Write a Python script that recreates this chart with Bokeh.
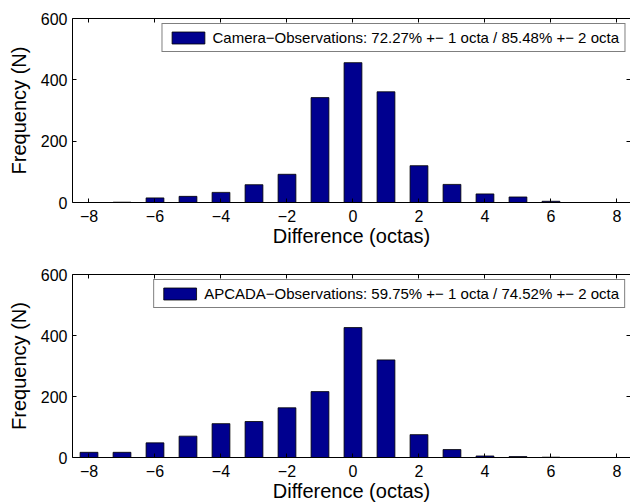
from bokeh.plotting import figure
from bokeh.layouts import column
from bokeh.models import (LinearAxis, Range1d, FixedTicker, Legend, LegendItem,
                          ColumnDataSource)
from bokeh.embed import file_html
from bokeh.resources import INLINE

# ---- data ----
differences = list(range(-8, 9))
camera_counts = [0, 1, 15, 20, 33, 58, 92, 342, 456, 361, 120, 59, 28, 18, 4, 0, 0]
apcada_counts = [17, 17, 48, 70, 111, 118, 163, 216, 426, 320, 75, 26, 5, 3, 1, 0, 0]
camera_label = "Camera\u2212Observations: 72.27% +\u2212 1 octa / 85.48% +\u2212 2 octa"
apcada_label = "APCADA\u2212Observations: 59.75% +\u2212 1 octa / 74.52% +\u2212 2 octa"
x_ticks = [-8, -6, -4, -2, 0, 2, 4, 6, 8]
y_ticks = [0, 200, 400, 600]
x_label = "Difference (octas)"
y_label = "Frequency (N)"

FONT = "Liberation Sans"
BAR = "#00008F"


def style_axis(ax, ticks, show_labels=True, show_line=True):
    ax.ticker = FixedTicker(ticks=ticks)
    ax.major_tick_in = 4
    ax.major_tick_out = 0
    ax.minor_tick_in = 0
    ax.minor_tick_out = 0
    ax.major_tick_line_color = "black"
    ax.axis_line_color = "black" if show_line else None
    ax.major_label_text_font = FONT
    ax.major_label_text_color = "black"
    ax.axis_label_text_color = "black"
    if not show_labels:
        ax.major_label_overrides = {t: "" for t in ticks}
        ax.major_label_text_font_size = "1px"
        ax.major_label_standoff = 0
        ax.major_label_text_alpha = 0


def make(vals, label, height, top_b, bottom_b):
    p = figure(width=630, height=height,
               x_range=Range1d(-8.5, 8.41), y_range=Range1d(0, 600),
               output_backend="svg", toolbar_location=None,
               min_border_left=72, min_border_right=0,
               min_border_top=top_b, min_border_bottom=bottom_b)
    p.xgrid.visible = False
    p.ygrid.visible = False
    p.outline_line_color = None
    p.background_fill_color = "white"
    p.border_fill_color = "white"

    src = ColumnDataSource(dict(x=differences, top=vals))
    r = p.vbar(x="x", top="top", width=0.54, source=src,
               fill_color=BAR, line_color="black", line_width=0.8)

    xa = p.xaxis[0]
    style_axis(xa, x_ticks)
    xa.major_label_text_font_size = "16px"
    xa.major_label_standoff = 7
    xa.axis_label = x_label
    xa.axis_label_text_font = FONT
    xa.axis_label_text_font_size = "20px"
    xa.axis_label_text_font_style = "normal"
    xa.axis_label_standoff = 0

    ya = p.yaxis[0]
    style_axis(ya, y_ticks)
    ya.major_label_text_font_size = "16px"
    ya.major_label_standoff = 5
    ya.axis_label = y_label
    ya.axis_label_text_font = FONT
    ya.axis_label_text_font_size = "20px"
    ya.axis_label_text_font_style = "normal"
    ya.axis_label_standoff = 8

    top_ax = LinearAxis()
    style_axis(top_ax, x_ticks, show_labels=False)
    p.add_layout(top_ax, "above")

    right_ax = LinearAxis()
    style_axis(right_ax, y_ticks, show_labels=False, show_line=False)
    p.add_layout(right_ax, "right")

    leg = Legend(items=[LegendItem(label=label, renderers=[r])],
                 location="top_right", margin=5, padding=5,
                 glyph_width=41, glyph_height=15, label_height=15,
                 label_standoff=4, spacing=0,
                 label_text_font=FONT, label_text_font_size="15px",
                 label_text_color="black",
                 border_line_color="black", border_line_width=1,
                 background_fill_color="white", background_fill_alpha=1)
    p.add_layout(leg)
    return p


p1 = make(camera_counts, camera_label, 256, 18, 54)
p2 = make(apcada_counts, apcada_label, 248, 18, 45)

layout = column(p1, p2, spacing=0)
open("out.html", "w").write(file_html(layout, INLINE))
